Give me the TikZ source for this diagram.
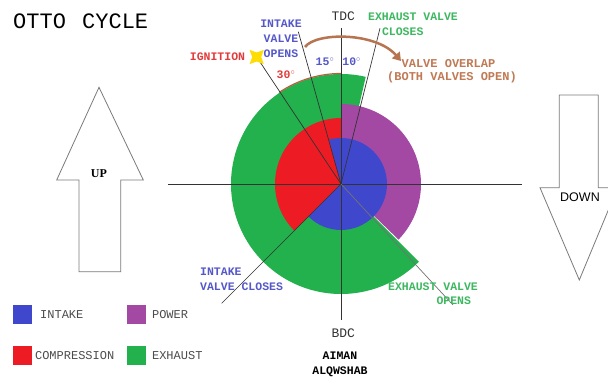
\documentclass[tikz,border=0pt]{standalone}
\usepackage{fontspec}
\setmainfont{Liberation Serif}
\setsansfont{Liberation Sans}
\setmonofont{Liberation Mono}
\usepackage{tikz}
\usetikzlibrary{arrows.meta,shapes.geometric,positioning}
\definecolor{intakeblue}{HTML}{3F48CC}
\definecolor{compred}{HTML}{ED1C24}
\definecolor{powerpurple}{HTML}{A349A4}
\definecolor{exhaustgreen}{HTML}{22B14C}
\definecolor{lblblue}{HTML}{5558C8}
\definecolor{lblgreen}{HTML}{3DB860}
\definecolor{lblred}{HTML}{E23B3B}
\definecolor{lblbrown}{HTML}{C07A55}
\definecolor{arcbrown}{HTML}{B9603F}
\definecolor{arrowgray}{HTML}{7A7A7A}
\tikzset{
  valvelabel/.style={font=\ttfamily\bfseries\fontsize{11.5}{15}\selectfont, inner sep=0pt},
  legendtext/.style={font=\ttfamily\fontsize{12}{14}\selectfont, text=black!70, inner sep=0pt},
  keybox/.style={minimum size=19pt, inner sep=0pt},
  timing/.style={draw=black!80, line width=0.7pt},
  bigarrow/.style={draw=arrowgray, line width=0.8pt, fill=white},
}
\newcommand{\drawSector}[4]{% colour, start angle, end angle, radius
  \fill[#1] (0,0) -- (#2:#4) arc[start angle=#2, end angle=#3, radius=#4] -- cycle;
}

\begin{document}
\begin{tikzpicture}[x=1pt,y=1pt]
\useasboundingbox (-341,-193) rectangle (267,184);
\fill[white] (-341,-193) rectangle (267,184);
\clip (-341,-193) rectangle (267,184);

% Title
\node[font=\ttfamily\fontsize{22}{24}\selectfont, anchor=west, inner sep=0pt] (title) at (-328,162.3) {OTTO\ \kern3pt CYCLE};

% Strokes: exhaust, power, compression, intake
\drawSector{exhaustgreen}{77}{315}{110}
\drawSector{powerpurple}{-44}{90}{80}
\drawSector{compred}{90}{225}{66}
\drawSector{intakeblue}{-135}{105}{46}
\draw[arcbrown, line width=1.2pt] (90:110.5) arc[start angle=90, end angle=124, radius=110.5];

% Axes
\coordinate (c) at (0,0);
\coordinate (tdc-end) at (0,156);
\coordinate (bdc-end) at (0,-136);
\coordinate (left-end) at (-173,0);
\coordinate (right-end) at (181,0);
\draw[timing] (left-end) -- (right-end);
\draw[timing] (tdc-end) -- (bdc-end);

% Valve timing lines
\coordinate (ign-end) at (-84.3,127);
\coordinate (ivo-end) at (-42.7,152.3);
\coordinate (evc-end) at (39,155.7);
\coordinate (ivc-end) at (-119.3,-119.3);
\coordinate (evo-end) at (112,-121);
\draw[timing] (c) -- (ign-end);
\draw[timing] (c) -- (ivo-end);
\draw[timing] (c) -- (evc-end);
\draw[timing] (c) -- (ivc-end);
\draw[timing, draw=black!55] (c) -- (evo-end);
\node[star, star points=4, star point ratio=0.45, fill=yellow!80!orange, minimum size=9pt, inner sep=0pt] (spark) at (ign-end) {};

% Labels round TDC
\node[font=\ttfamily\fontsize{13}{15}\selectfont, text=black!80, inner sep=0pt] (tdc) at (2.3,167.3) {TDC};
\node[valvelabel, text=lblblue, align=center] (ivo) at (-60,145.5) {INTAKE\\VALVE\\OPENS};
\node[valvelabel, text=lblgreen, align=left, anchor=west] (evc) at (27,159.5) {EXHAUST VALVE\\\hphantom{XX}CLOSES};
\node[valvelabel, text=lblred] (ignition) at (-123.5,127.3) {IGNITION};
\node[valvelabel, text=lblred] (deg30) at (-55,109) {30$^{\circ}$};
\node[valvelabel, text=lblblue] (deg15) at (-16,122.3) {15$^{\circ}$};
\node[valvelabel, text=lblblue] (deg10) at (10.7,122.3) {10$^{\circ}$};

% Valve overlap
\node[valvelabel, text=lblbrown, align=left, anchor=west, font=\ttfamily\bfseries\fontsize{12}{12.5}\selectfont] (overlap) at (46,113) {\hphantom{XX}VALVE OVERLAP\\(BOTH VALVES OPEN)};
\coordinate (ovl-start) at (-36,137);
\coordinate (ovl-end) at (60,123);
\draw[lblbrown!95!black, line width=2.5pt, -{Triangle[length=8pt,width=10pt]}] (ovl-start) .. controls (-25,152) and (35,152) .. (ovl-end);

% Labels round BDC
\node[valvelabel, text=lblblue, align=left, anchor=west] (ivc) at (-141,-95.2) {INTAKE\\VALVE CLOSES};
\node[valvelabel, text=lblgreen, align=left, anchor=west, font=\ttfamily\bfseries\fontsize{11.5}{14.3}\selectfont] (evo) at (47,-110) {EXHAUST VALVE\\\hphantom{EXHAUST}OPENS};
\node[font=\ttfamily\fontsize{13}{15}\selectfont, text=black!80, inner sep=0pt] (bdc) at (2.3,-149.3) {BDC};
\node[valvelabel, align=center, font=\ttfamily\bfseries\fontsize{11.5}{15}\selectfont] (author) at (-1,-180.2) {AIMAN\\ALQWSHAB};

% Piston arrows
\draw[bigarrow] (-242,96.7) -- (-197.7,4) -- (-220.3,4) -- (-220.3,-87.7) -- (-262,-87.7) -- (-262,4) -- (-284.3,4) -- cycle;
\node[font=\rmfamily\bfseries\fontsize{12}{14}\selectfont, inner sep=0pt] (up) at (-242,10.7) {UP};
\draw[bigarrow] (218.3,89) -- (257.3,89) -- (257.3,-3.7) -- (276.6,-3.7) -- (238.3,-96) -- (199,-3.7) -- (218.3,-3.7) -- cycle;
\node[font=\sffamily\fontsize{12.5}{14}\selectfont, inner sep=0pt] (down) at (239,-12.7) {DOWN};

% Legend
\node[keybox, fill=intakeblue] (intake-key) at (-318.2,-131) {};
\node[legendtext, right=7.5pt of intake-key] (intake-text) {INTAKE};
\node[keybox, fill=powerpurple] (power-key) at (-204.3,-130.5) {};
\node[legendtext, right=5.5pt of power-key] (power-text) {POWER};
\node[keybox, fill=compred] (comp-key) at (-318.8,-172) {};
\node[legendtext, right=3pt of comp-key] (comp-text) {COMPRESSION};
\node[keybox, fill=exhaustgreen] (exhaust-key) at (-204.3,-171.5) {};
\node[legendtext, right=5.5pt of exhaust-key] (exhaust-text) {EXHAUST};
\end{tikzpicture}
\end{document}
